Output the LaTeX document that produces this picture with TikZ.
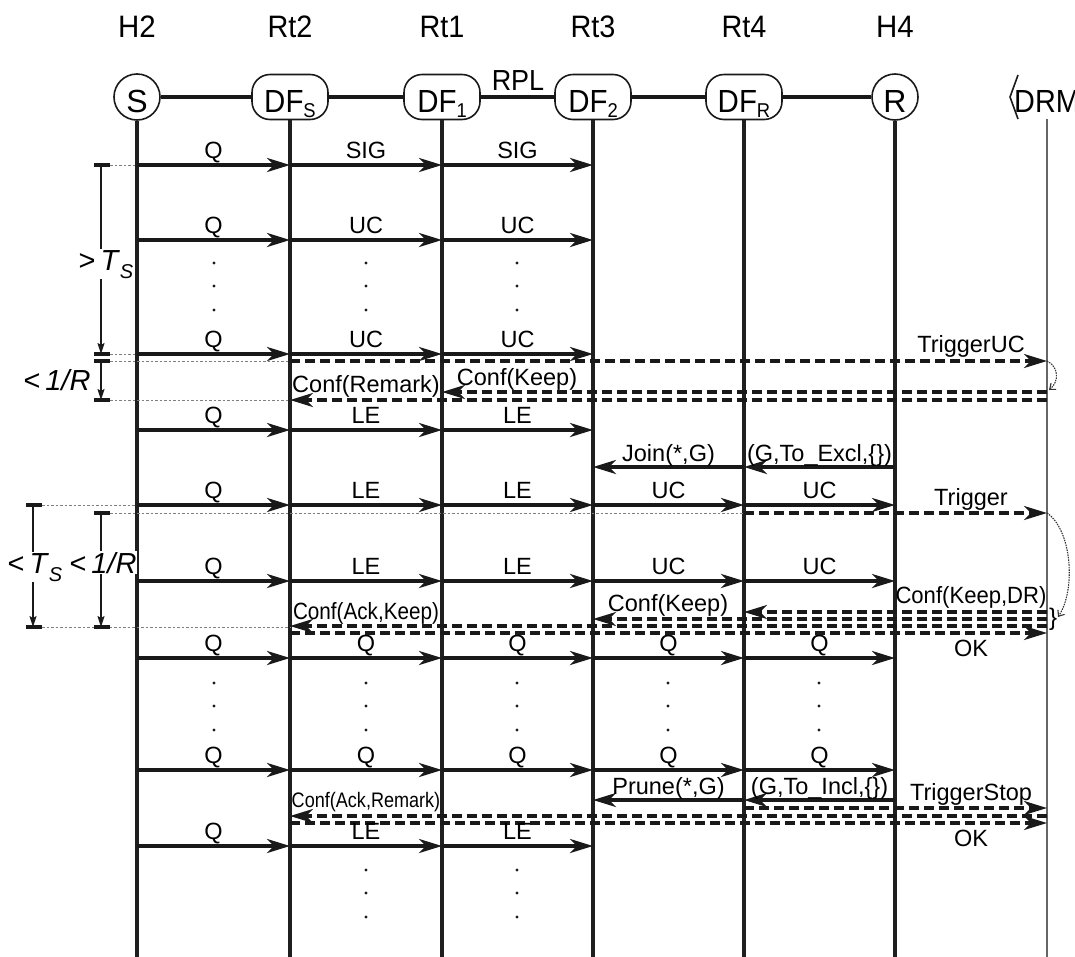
\documentclass[tikz,border=0pt]{standalone}
\usepackage{fontspec}
\setmainfont{Liberation Sans}
\usetikzlibrary{arrows.meta}
\newcommand\lblfont{\fontsize{23.5}{23.5}\selectfont}
\newcommand\hdrfont{\fontsize{31}{31}\selectfont}
\newcommand\ndfont{\fontsize{32}{32}\selectfont}
\newcommand\subfont{\fontsize{20}{20}\selectfont}
\newcommand\tmfont{\fontsize{29}{29}\selectfont}
\newcommand\dfname[1]{\scalebox{0.92}[1]{DF\raisebox{-5pt}{\subfont #1}}}
\newcommand\mr[4]{\draw[msgline] (#1 |- 0,#3) -- node[lbl]{#4} (#2 |- 0,#3);}
\newcommand\dm[3]{\draw[dmsg] (#1 |- 0,#3) -- (#2 |- 0,#3);}
\begin{document}
\begin{tikzpicture}[x=1pt,y=-1pt,
  ent/.style={draw=black!90, line width=1.6pt, inner sep=0pt},
  ntxt/.style={font=\ndfont, inner sep=0pt, anchor=base},
  hdr/.style={font=\hdrfont, inner sep=0pt, anchor=base},
  conn/.style={line width=3.4pt, draw=black!90},
  life/.style={line width=3.1pt, draw=black!88},
  msgline/.style={line width=3.8pt, draw=black!90, -{Stealth[length=23pt,width=14pt,inset=7pt]}},
  dmsg/.style={msgline, line width=3.3pt, dash pattern=on 10pt off 5pt},
  lbl/.style={font=\lblfont, inner sep=0pt, anchor=base, midway, yshift=7pt},
  tl/.style={font=\lblfont, inner sep=0pt, anchor=base},
  guide/.style={draw=gray, line width=1pt, dash pattern=on 2.5pt off 2pt},
  tick/.style={line width=3.4pt, draw=black!90},
  dim/.style={line width=1.6pt, draw=black!90, -{Stealth[length=11pt,width=7pt,inset=2pt]}},
  tmlbl/.style={font=\tmfont, inner sep=1pt, anchor=base},
  curvy/.style={line width=1.1pt, draw=black!80, dash pattern=on 1.5pt off 1pt, -{Straight Barb[length=5pt,width=8pt]}},
  dotm/.style={fill=black!90}
]
\useasboundingbox (0,0) rectangle (1075,956);
\clip (0,0) rectangle (1075,956);

% lifeline x positions
\coordinate (xS) at (137,0);
\coordinate (xA) at (290,0);
\coordinate (xB) at (442,0);
\coordinate (xC) at (593,0);
\coordinate (xD) at (744,0);
\coordinate (xR) at (895,0);
\coordinate (xM) at (1047,0);
\coordinate (bot) at (0,958);

% headers
\node[hdr] (hS) at (137,37) {\scalebox{0.95}[1]{H2}};
\node[hdr] (hA) at (290,37) {\scalebox{0.93}[1]{Rt2}};
\node[hdr] (hB) at (442,37) {\scalebox{0.93}[1]{Rt1}};
\node[hdr] (hC) at (593,37) {\scalebox{0.93}[1]{Rt3}};
\node[hdr] (hD) at (744,37) {\scalebox{0.93}[1]{Rt4}};
\node[hdr] (hR) at (895,37) {\scalebox{0.95}[1]{H4}};

% entities
\node[ent, circle, minimum size=46pt] (S) at (137,97) {};
\node[ent, rounded corners=18pt, minimum width=76pt, minimum height=45pt] (DFS) at (290,97) {};
\node[ent, rounded corners=18pt, minimum width=76pt, minimum height=45pt] (DF1) at (442,97) {};
\node[ent, rounded corners=18pt, minimum width=76pt, minimum height=45pt] (DF2) at (593,97) {};
\node[ent, rounded corners=18pt, minimum width=76pt, minimum height=45pt] (DFR) at (744,97) {};
\node[ent, circle, minimum size=46pt] (R) at (895,97) {};
\node[ntxt] (tS) at (137,112) {S};
\node[ntxt] (tDFS) at (290,112) {\dfname{S}};
\node[ntxt] (tDF1) at (442,112) {\dfname{1}};
\node[ntxt] (tDF2) at (593,112) {\dfname{2}};
\node[ntxt] (tDFR) at (744,112) {\dfname{R}};
\node[ntxt] (tR) at (895,112) {R};
\coordinate (m1) at (1018,75);
\coordinate (m2) at (1010,97);
\coordinate (m3) at (1018,119);
\draw[ent] (m1) -- (m2) -- (m3);
\node[ntxt, anchor=base west] (DRM) at (1014,112) {\scalebox{0.9}[1]{DRM}};
\coordinate (M) at (1047,119);

% links
\draw[conn] (S) -- (DFS);
\draw[conn] (DFS) -- (DF1);
\draw[conn] (DF1) -- (DF2);
\draw[conn] (DF2) -- (DFR);
\draw[conn] (DFR) -- (R);
\node[hdr, font=\fontsize{29}{29}\selectfont] (rpl) at (518,90) {\scalebox{0.93}[1]{RPL}};

% lifelines
\draw[life] (S.south) -- (S.south |- bot);
\draw[life] (DFS.south) -- (DFS.south |- bot);
\draw[life] (DF1.south) -- (DF1.south |- bot);
\draw[life] (DF2.south) -- (DF2.south |- bot);
\draw[life] (DFR.south) -- (DFR.south |- bot);
\draw[life] (R.south) -- (R.south |- bot);
\draw[line width=2.6pt, draw=black!60] (M) -- (M |- bot);

% guides (thin dotted)
\draw[guide] (110,165) -- (xS |- 0,165);
\draw[guide] (110,354) -- (xS |- 0,354);
\draw[guide] (110,361) -- (xA |- 0,361);
\draw[guide] (110,400) -- (xA |- 0,400);
\draw[guide] (42,505) -- (xS |- 0,505);
\draw[guide] (110,513) -- (xD |- 0,513);
\draw[guide] (42,627) -- (xA |- 0,627);

% timing marks
\draw[tick] (94,165) -- (110,165);
\draw[tick] (94,354) -- (110,354);
\draw[tick] (94,361) -- (110,361);
\draw[tick] (94,400) -- (110,400);
\draw[tick] (26,505) -- (42,505);
\draw[tick] (26,627) -- (42,627);
\draw[tick] (94,513) -- (110,513);
\draw[tick] (94,627) -- (110,627);
\draw[dim] (101,165) -- (101,354);
\draw[dim] (101,361) -- (101,400);
\draw[dim] (33,505) -- (33,627);
\draw[dim] (101,513) -- (101,627);
\node[tmlbl, fill=white] (ts1) at (106,270) {>\,\textit{T}\raisebox{-8pt}{\subfont\textit{S}}};
\node[tmlbl] (r1) at (57,390) {<\,\textit{1/R}};
\node[tmlbl, fill=white] (ts2) at (35,573) {<\,\textit{T}\raisebox{-8pt}{\subfont\textit{S}}};
\node[tmlbl, fill=white] (r2) at (103,573) {<\,\textit{1/R}};

% row 1
\mr{xS}{xA}{165}{Q}
\mr{xA}{xB}{165}{SIG}
\mr{xB}{xC}{165}{SIG}
% row 2
\mr{xS}{xA}{240}{Q}
\mr{xA}{xB}{240}{UC}
\mr{xB}{xC}{240}{UC}
\foreach \x in {214,366,517} \foreach \y in {263,286,310} \fill[dotm] (\x,\y) circle (1.6pt);
% row 3
\mr{xS}{xA}{354}{Q}
\mr{xA}{xB}{354}{UC}
\mr{xB}{xC}{354}{UC}
% TriggerUC and confirmations
\dm{xA}{xM}{361}
\node[tl] (lTUC) at (971,352) {TriggerUC};
\dm{xM}{xB}{392}
\node[tl] (lCK1) at (517,385) {Conf(Keep)};
\dm{xM}{xA}{400}
\node[tl] (lCR) at (366,392) {Conf(Remark)};
\coordinate (c1s) at (1047,361);
\coordinate (c1e) at (1049,390);
\draw[curvy] (c1s) .. controls (1058,366) and (1060,381) .. (c1e);
% row 4
\mr{xS}{xA}{430}{Q}
\mr{xA}{xB}{430}{LE}
\mr{xB}{xC}{430}{LE}
% row 5
\draw[msgline] (xD |- 0,467) -- node[lbl, yshift=-1pt]{Join(*,G)} (xC |- 0,467);
\draw[msgline] (xR |- 0,467) -- node[lbl, yshift=-1pt]{(G,To\_Excl,\{\})} (xD |- 0,467);
% row 6
\mr{xS}{xA}{505}{Q}
\mr{xA}{xB}{505}{LE}
\mr{xB}{xC}{505}{LE}
\mr{xC}{xD}{505}{UC}
\mr{xD}{xR}{505}{UC}
\dm{xD}{xM}{513}
\node[tl] (lTR) at (971,505) {Trigger};
\coordinate (c2s) at (1047,513);
\coordinate (c2e) at (1058,617);
\draw[curvy] (c2s) .. controls (1072,530) and (1076,590) .. (c2e);
% row 7
\mr{xS}{xA}{581}{Q}
\mr{xA}{xB}{581}{LE}
\mr{xB}{xC}{581}{LE}
\mr{xC}{xD}{581}{UC}
\mr{xD}{xR}{581}{UC}
% row 8
\mr{xS}{xA}{658}{Q}
\mr{xA}{xB}{658}{Q}
\mr{xB}{xC}{658}{Q}
\mr{xC}{xD}{658}{Q}
\mr{xD}{xR}{658}{Q}
% confirmations after trigger
\dm{xM}{xD}{612}
\node[tl] (lCKDR) at (971,603) {\scalebox{0.94}[1]{Conf(Keep,DR)}};
\dm{xM}{xC}{619}
\node[tl] (lCK2) at (668,611) {Conf(Keep)};
\dm{xM}{xA}{626}
\node[tl] (lCAK) at (366,619) {\scalebox{0.88}[1]{Conf(Ack,Keep)}};
\dm{xA}{xM}{633}
\node[tl] (lOK1) at (971,656) {OK};
\node[inner sep=0pt, font=\fontsize{24}{24}\selectfont] (brace) at (1053,619) {\}};
\foreach \x in {214,366,517,668,819} \foreach \y in {683,706,730} \fill[dotm] (\x,\y) circle (1.6pt);
% row 9
\mr{xS}{xA}{770}{Q}
\mr{xA}{xB}{770}{Q}
\mr{xB}{xC}{770}{Q}
\mr{xC}{xD}{770}{Q}
\mr{xD}{xR}{770}{Q}
% row 10
\draw[msgline] (xD |- 0,800) -- node[lbl, yshift=-1pt]{Prune(*,G)} (xC |- 0,800);
\draw[msgline] (xR |- 0,800) -- node[lbl, yshift=-1pt]{(G,To\_Incl,\{\})} (xD |- 0,800);
\dm{xD}{xM}{808}
\node[tl] (lTS) at (971,800) {TriggerStop};
\dm{xM}{xA}{816}
\node[tl] (lCAR) at (366,807) {\scalebox{0.86}[1]{\fontsize{21}{21}\selectfont Conf(Ack,Remark)}};
\dm{xA}{xM}{823}
\node[tl] (lOK2) at (971,846) {OK};
% row 11
\mr{xS}{xA}{846}{Q}
\mr{xA}{xB}{846}{LE}
\mr{xB}{xC}{846}{LE}
\foreach \x in {366,517} \foreach \y in {870,893,917} \fill[dotm] (\x,\y) circle (1.6pt);
\end{tikzpicture}
\end{document}
